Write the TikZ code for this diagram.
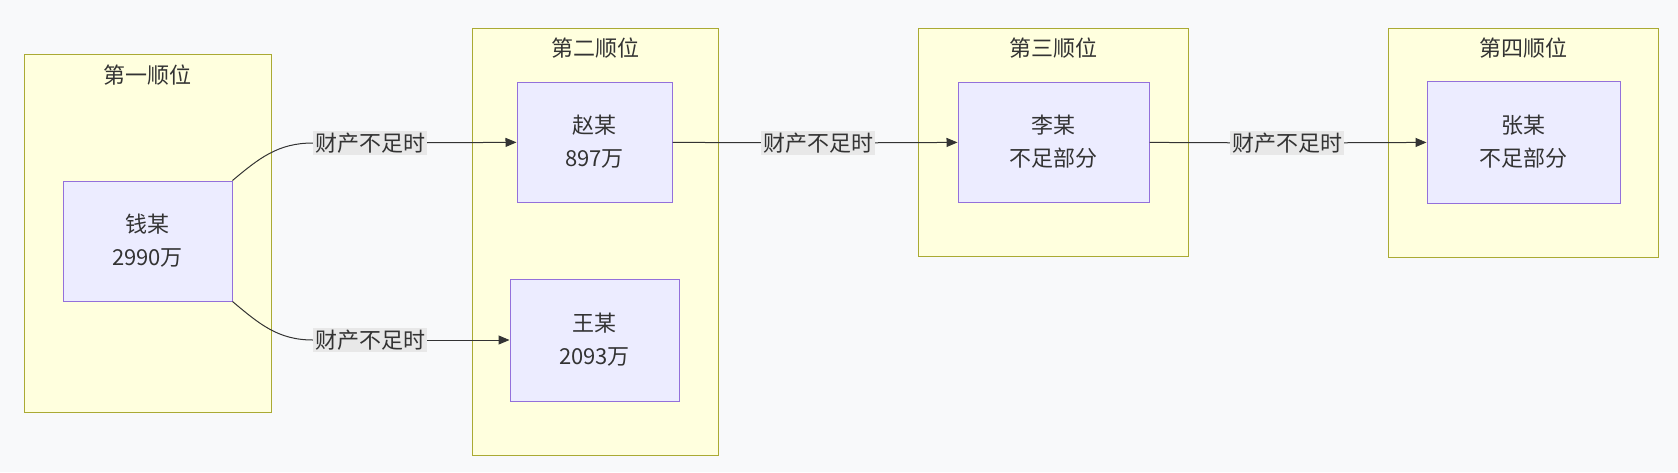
\documentclass[tikz,border=0pt]{standalone}
\usepackage{fontspec}
\setmainfont{Noto Sans CJK SC}
\usetikzlibrary{arrows.meta}
\definecolor{bgc}{HTML}{F8F9FA}
\definecolor{clfill}{HTML}{FFFFDE}
\definecolor{cldraw}{HTML}{AAAA33}
\definecolor{ndfill}{HTML}{ECECFF}
\definecolor{nddraw}{HTML}{9370DB}
\definecolor{lbfill}{HTML}{E8E8E8}
\begin{document}
\begin{tikzpicture}[x=1pt,y=-1pt,font=\fontsize{22}{33}\selectfont,
  cluster/.style={draw=cldraw, fill=clfill, line width=1pt, inner sep=0pt},
  person/.style={draw=nddraw, fill=ndfill, line width=1pt, align=center, inner sep=0pt, text=black!80},
  cond/.style={fill=lbfill, inner sep=2pt, text=black!80},
  link/.style={line width=1pt, black!80},
  title/.style={text=black!80}]
      \fill[bgc] (0,0) rectangle (1678,472);
%% Clusters
      \node[cluster, minimum width=247, minimum height=358] (c1) at (147.5,233) {};
      \node[cluster, minimum width=246, minimum height=427] (c2) at (595,241.5) {};
      \node[cluster, minimum width=270, minimum height=228] (c3) at (1053,142) {};
      \node[cluster, minimum width=270, minimum height=229] (c4) at (1523,142.5) {};
      \node[title] (t1) at (147.5,75) {第一顺位};
      \node[title] (t2) at (595,48) {第二顺位};
      \node[title] (t3) at (1053,48) {第三顺位};
      \node[title] (t4) at (1523,48) {第四顺位};
%% Persons
      \node[person, minimum width=169, minimum height=120] (qian) at (147.5,241) {钱某\\2990万};
      \node[person, minimum width=155, minimum height=120] (zhao) at (594.5,142) {赵某\\897万};
      \node[person, minimum width=169, minimum height=122] (wang) at (594.5,340) {王某\\2093万};
      \node[person, minimum width=191, minimum height=120] (li) at (1053.5,142) {李某\\不足部分};
      \node[person, minimum width=193, minimum height=122] (zhang) at (1523.5,142) {张某\\不足部分};
%% Labels
      \node[cond] (l1) at (370,143) {财产不足时};
      \node[cond] (l2) at (370,340) {财产不足时};
      \node[cond] (l3) at (818,143) {财产不足时};
      \node[cond] (l4) at (1287,143) {财产不足时};
%% Edges
      \draw[link] (qian.north east) to[out=40,in=180] (l1.west);
      \draw[link] (qian.south east) to[out=-40,in=180] (l2.west);
      \draw[link,-{Triangle[length=11pt,width=9pt]}] (l1) -- (zhao);
      \draw[link,-{Triangle[length=11pt,width=9pt]}] (l2) -- (wang);
      \draw[link] (zhao) -- (l3);
      \draw[link,-{Triangle[length=11pt,width=9pt]}] (l3) -- (li);
      \draw[link] (li) -- (l4);
      \draw[link,-{Triangle[length=11pt,width=9pt]}] (l4) -- (zhang);
\end{tikzpicture}
\end{document}
